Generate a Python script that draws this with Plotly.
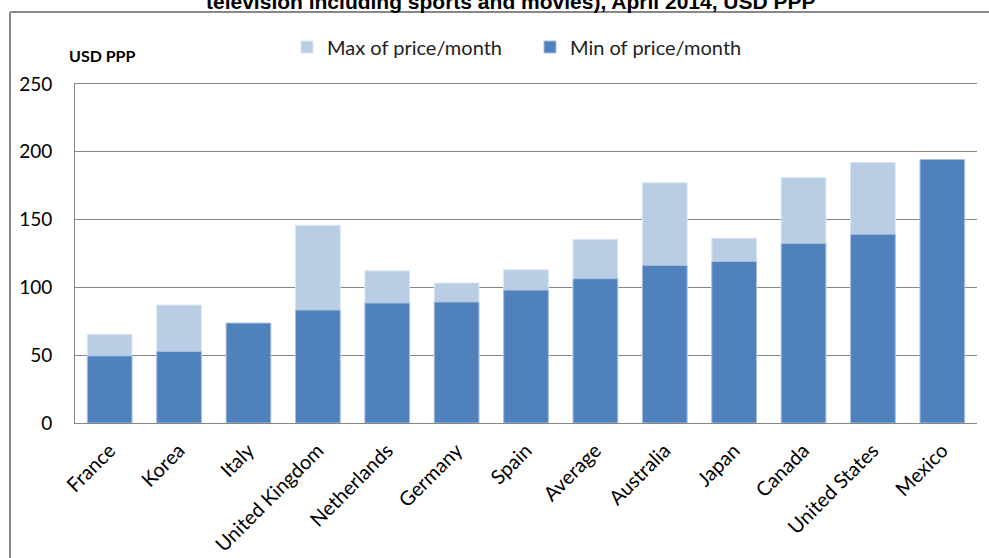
import plotly.graph_objects as go

categories = ["France", "Korea", "Italy", "United Kingdom", "Netherlands", "Germany",
              "Spain", "Average", "Australia", "Japan", "Canada", "United States", "Mexico"]
min_price = [49.5, 52.7, 73.7, 83.3, 88.5, 89.2, 98.0, 106.4, 116.2, 119.1, 132.3, 139.2, 194.3]
max_price = [65.4, 87.0, None, 145.8, 112.2, 103.2, 113.0, 135.5, 177.2, 136.3, 181.0, 192.1, None]
y_ticks = [0, 50, 100, 150, 200, 250]

W, H = 989, 558
L, R, T, B = 75, 12, 84, 135
PW, PH = W - L - R, H - T - B

def px(x):
    return (x - L) / PW

def py(y):
    return (H - B - y) / PH

fig = go.Figure()
fig.add_trace(go.Bar(x=categories, y=max_price, name="Max of price/month",
                     marker=dict(color="#B9CDE5", line=dict(color="#DCE6F2", width=1))))
fig.add_trace(go.Bar(x=categories, y=min_price, name="Min of price/month",
                     marker=dict(color="#4F81BD", line=dict(color="#A7BFDE", width=1))))

fig.update_layout(
    width=W, height=H,
    margin=dict(l=L, r=R, t=T, b=B, autoexpand=False),
    barmode="overlay",
    bargap=0.356,
    plot_bgcolor="white", paper_bgcolor="white",
    font=dict(family="Lato", size=18, color="#000000"),
    showlegend=True,
    legend=dict(orientation="h", x=px(287), y=py(47), xanchor="left", yanchor="middle",
                font=dict(family="Lato", size=20, color="#222222"),
                entrywidth=198, entrywidthmode="pixels", bgcolor="rgba(0,0,0,0)"),
    xaxis=dict(tickangle=-45, showgrid=False, showline=True, mirror=True,
               linecolor="#878787", linewidth=1, ticks="", ticklabelstandoff=7,
               tickfont=dict(family="Lato", size=20, color="#000000")),
    yaxis=dict(range=[0, 250], tickvals=y_ticks, showgrid=True, gridcolor="#878787", gridwidth=1,
               showline=True, linecolor="#878787", linewidth=1, mirror=False, zeroline=False,
               ticks="", ticklabelstandoff=18, tickfont=dict(family="Lato", size=19, color="#000000")),
)

fig.add_annotation(text="<b>USD PPP</b>", xref="paper", yref="paper", x=px(67), y=py(55),
                   xanchor="left", yanchor="middle", showarrow=False,
                   font=dict(family="Lato", size=16, color="#000000"))
fig.add_annotation(text="<b>television including sports and movies), April 2014, USD PPP</b>",
                   xref="paper", yref="paper", x=px(511), y=py(1), xanchor="center", yanchor="middle",
                   showarrow=False, font=dict(family="Liberation Sans", size=21, color="#000000"))

# outer frame of the original figure box
fig.add_shape(type="line", xref="paper", yref="paper", x0=px(10), x1=px(989), y0=py(12), y1=py(12),
              line=dict(color="#888888", width=2))
fig.add_shape(type="line", xref="paper", yref="paper", x0=px(10), x1=px(10), y0=py(12), y1=py(558),
              line=dict(color="#888888", width=2))

fig.write_html("out.html")
